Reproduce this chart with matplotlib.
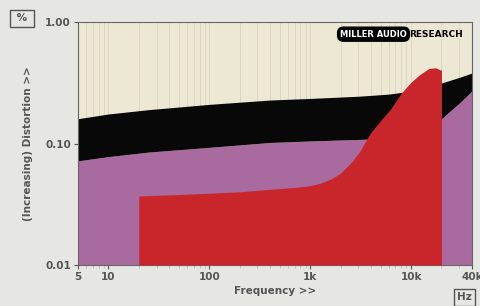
import numpy as np
import matplotlib
matplotlib.use("Agg")
import matplotlib.pyplot as plt
from matplotlib.ticker import FixedLocator, NullFormatter

# Black band (distortion range)
band_f = [5, 10, 25, 100, 400, 1000, 3000, 6000, 10000, 20000, 30000, 40000]
band_top = [0.16, 0.175, 0.19, 0.21, 0.228, 0.235, 0.245, 0.255, 0.27, 0.315, 0.35, 0.38]
band_bot = [0.072, 0.078, 0.085, 0.093, 0.102, 0.105, 0.108, 0.11, 0.12, 0.16, 0.215, 0.27]

# Red area
red_f = [20, 50, 100, 200, 400, 700, 1000, 1250, 1600, 2000, 2600, 3100, 3900,
         5000, 6200, 8000, 9800, 12000, 15000, 17500, 20000]
red_v = [0.037, 0.038, 0.039, 0.040, 0.042, 0.0435, 0.045, 0.047, 0.051, 0.057,
         0.071, 0.086, 0.12, 0.155, 0.19, 0.26, 0.315, 0.366, 0.415, 0.42, 0.40]

x_ticks = [5, 10, 100, 1000, 10000, 40000]
x_labels = ["5", "10", "100", "1k", "10k", "40k"]
y_ticks = [0.01, 0.1, 1.0]
y_labels = ["0.01", "0.10", "1.00"]

floor = 0.01
bg = "#e6e6e3"
cream = "#ede8d3"
purple = "#a96aa0"
red = "#c8262a"
txt = "#555555"

fig = plt.figure(figsize=(4.8, 3.06), dpi=100, facecolor=bg)
ax = fig.add_axes([0.1625, 0.134, 0.8205, 0.794])
ax.set_facecolor(cream)
ax.set_xscale("log")
ax.set_yscale("log")
ax.set_xlim(5, 40000)
ax.set_ylim(0.01, 1.0)

# faint vertical grid
minor = [m * 10 ** d for d in range(0, 5) for m in range(1, 10)]
minor = [v for v in minor if 5 <= v <= 40000]
for v in minor:
    ax.axvline(v, color="#d9d3bf", lw=0.6, zorder=1)

ax.fill_between(band_f, floor, band_bot, color=purple, lw=0, zorder=2)
ax.fill_between(band_f, band_bot, band_top, color="#080808", lw=0, zorder=2)
ax.fill_between(red_f, floor, red_v, color=red, lw=0, zorder=3)

ax.xaxis.set_major_locator(FixedLocator(x_ticks))
ax.set_xticklabels(x_labels)
ax.xaxis.set_minor_locator(FixedLocator(minor))
ax.xaxis.set_minor_formatter(NullFormatter())
ax.yaxis.set_major_locator(FixedLocator(y_ticks))
ax.set_yticklabels(y_labels)
ax.yaxis.set_minor_formatter(NullFormatter())
ax.tick_params(axis="both", which="major", labelsize=7.5, colors=txt,
               length=3, width=0.8, pad=2)
ax.tick_params(axis="y", which="minor", length=0)
ax.tick_params(axis="x", which="minor", length=2, color="#bbbbbb")
for lab in ax.get_xticklabels() + ax.get_yticklabels():
    lab.set_fontweight("bold")
    lab.set_color("#555555")
for s in ax.spines.values():
    s.set_color("#666666")
    s.set_linewidth(0.8)

ax.set_xlabel("Frequency >>", fontsize=7.5, fontweight="bold", color=txt, labelpad=3)
ax.set_ylabel("(Increasing) Distortion >>", fontsize=7.5, fontweight="bold",
              color=txt, labelpad=9)

box = dict(boxstyle="square,pad=0.3", fc=bg, ec="#555555", lw=1.0)
fig.text(0.028, 0.93, " % ", fontsize=7.5, fontweight="bold", color=txt, bbox=box)
fig.text(0.953, 0.018, "Hz", fontsize=7.5, fontweight="bold", color=txt, bbox=box)

# logo
ax.text(0.835, 0.95, "MILLER AUDIO", transform=ax.transAxes, fontsize=6,
        fontweight="bold", color="white", ha="right", va="center", zorder=5,
        bbox=dict(boxstyle="round,pad=0.3,rounding_size=0.7", fc="black", ec="black"))
ax.text(0.84, 0.95, "RESEARCH", transform=ax.transAxes, fontsize=6.5,
        fontweight="bold", color="black", ha="left", va="center", zorder=5)

fig.savefig("out.png", dpi=100, facecolor=bg)
